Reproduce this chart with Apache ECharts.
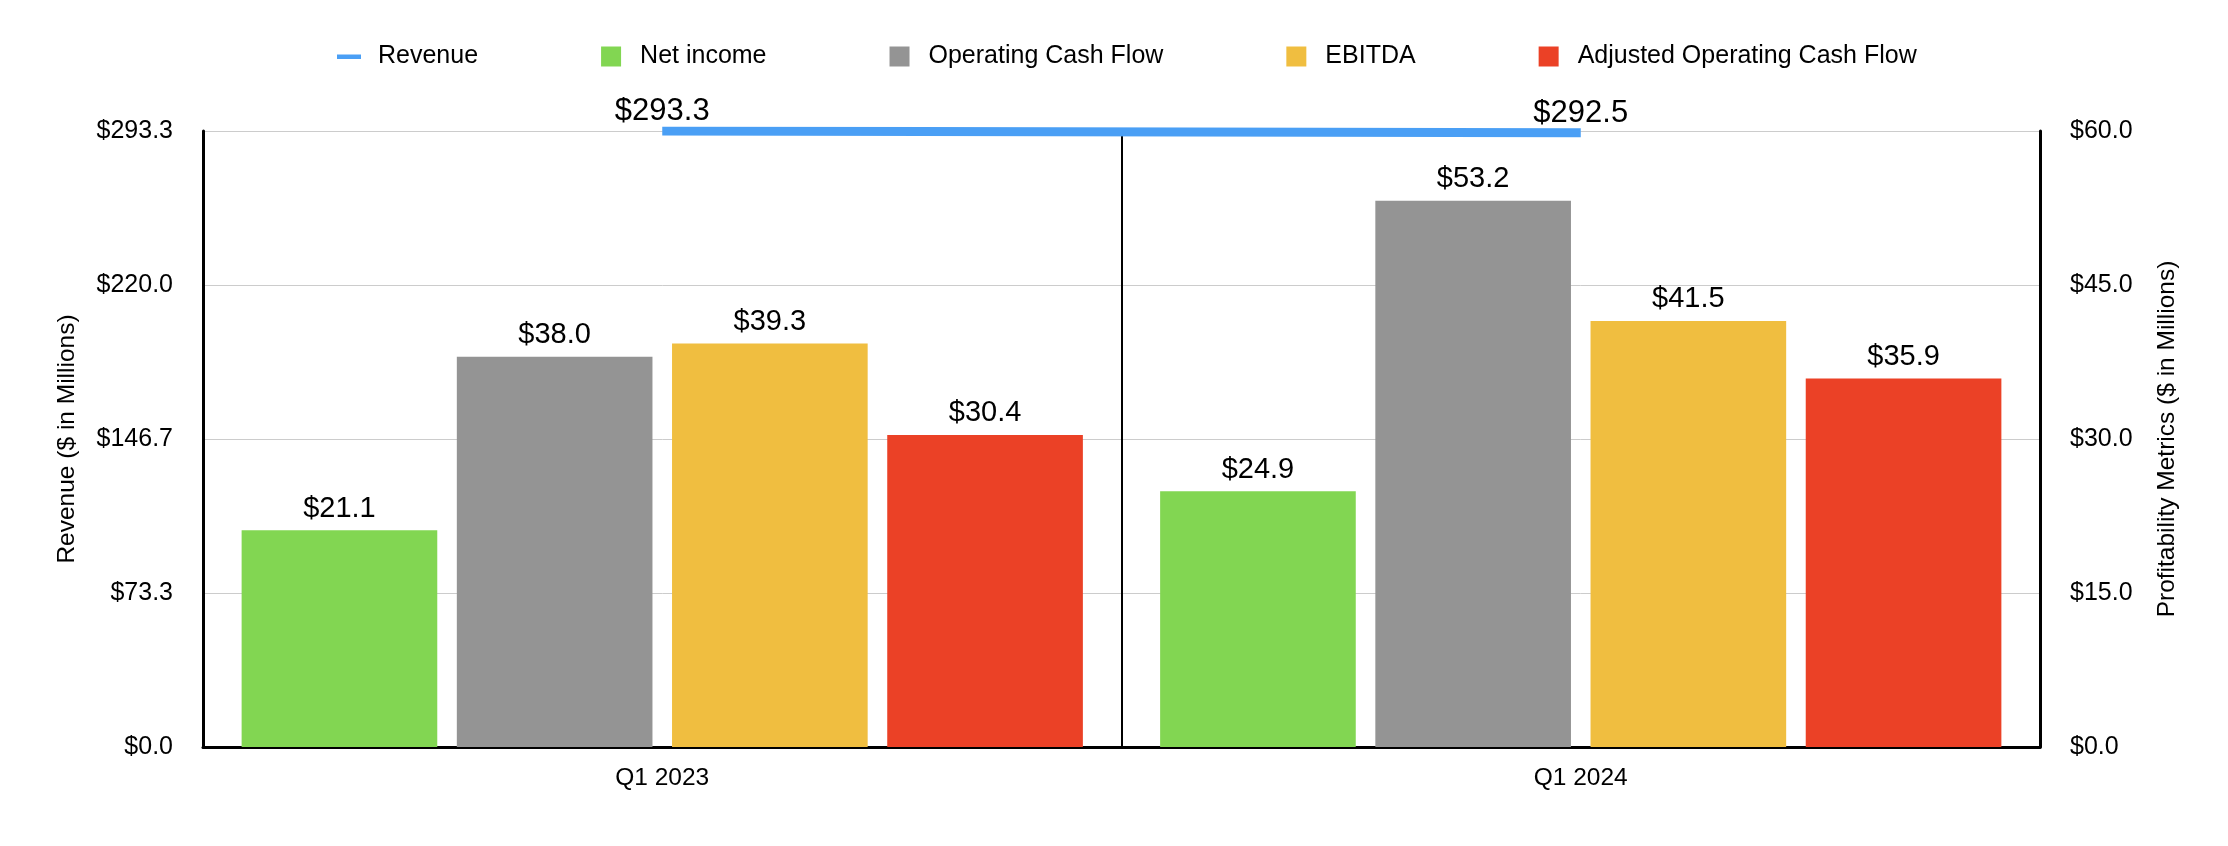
<!DOCTYPE html>
<html>
<head>
<meta charset="utf-8">
<script src="https://cdn.jsdelivr.net/npm/echarts@6/dist/echarts.min.js"></script>
<style>
html,body{margin:0;padding:0;background:#fff;}
#chart{width:2228px;height:846px;}
</style>
</head>
<body>
<div id="chart"></div>
<script>
const categories = ['Q1 2023', 'Q1 2024'];
const revenue = [293.3, 292.5];
const netIncome = [21.1, 24.9];
const operatingCashFlow = [38.0, 53.2];
const ebitda = [39.3, 41.5];
const adjustedOperatingCashFlow = [30.4, 35.9];
const leftTicks = { min: 0, max: 293.33333, interval: 73.333333 };
const rightTicks = { min: 0, max: 60, interval: 15 };

const FONT = "'Liberation Sans', Arial, Helvetica, sans-serif";
const colors = {
  revenue: '#4A9FF5',
  net: '#82D652',
  ocf: '#949494',
  ebitda: '#F0BE40',
  adj: '#EB4126'
};
const squareIcon = 'path://M0,0L0,0M24,20L24,20M2,0L22,0L22,20L2,20Z';
const lineIcon = 'path://M0,0L0,0M24,20L24,20M0,8L24,8L24,12.5L0,12.5Z';
const fmt = v => '$' + Number(v).toFixed(1);

function barSeries(name, data, color) {
  return {
    name: name,
    type: 'bar',
    yAxisIndex: 1,
    data: data,
    barWidth: '21.3%',
    barGap: '10%',
    itemStyle: { color: color },
    label: {
      show: true,
      position: 'top',
      distance: 7,
      color: '#000',
      fontFamily: FONT,
      fontSize: 29,
      formatter: p => fmt(p.value)
    },
    z: 2
  };
}

const chart = echarts.init(document.getElementById('chart'), null, { renderer: 'canvas' });
chart.setOption({
  animation: false,
  backgroundColor: '#fff',
  textStyle: { fontFamily: FONT },
  legend: {
    top: 39,
    left: 332,
    itemWidth: 24,
    itemHeight: 20,
    itemGap: 121,
    symbolKeepAspect: true,
    textStyle: { fontFamily: FONT, fontSize: 25, color: '#000', padding: [0, 0, 0, 12] },
    data: [
      { name: 'Revenue', icon: lineIcon, itemStyle: { borderWidth: 0 } },
      { name: 'Net income', icon: squareIcon },
      { name: 'Operating Cash Flow', icon: squareIcon },
      { name: 'EBITDA', icon: squareIcon },
      { name: 'Adjusted Operating Cash Flow', icon: squareIcon }
    ]
  },
  grid: { left: 203, right: 188, top: 131, bottom: 99, containLabel: false },
  xAxis: {
    type: 'category',
    data: categories,
    boundaryGap: true,
    axisLine: { show: true, lineStyle: { color: '#000', width: 3 } },
    axisTick: { show: false },
    axisLabel: { color: '#000', fontFamily: FONT, fontSize: 24.5, margin: 19 },
    splitLine: { show: true, lineStyle: { color: '#000', width: 2 } }
  },
  yAxis: [
    {
      type: 'value',
      position: 'left',
      min: leftTicks.min,
      max: leftTicks.max,
      interval: leftTicks.interval,
      name: 'Revenue ($ in Millions)',
      nameLocation: 'middle',
      nameRotate: 90,
      nameGap: 123,
      nameTextStyle: { color: '#000', fontFamily: FONT, fontSize: 24.5 },
      axisLine: { show: true, lineStyle: { color: '#000', width: 3 } },
      axisTick: { show: false },
      axisLabel: { color: '#000', fontFamily: FONT, fontSize: 25, margin: 30, formatter: v => fmt(v) },
      splitLine: { show: true, lineStyle: { color: '#cccccc', width: 1 } }
    },
    {
      type: 'value',
      position: 'right',
      min: rightTicks.min,
      max: rightTicks.max,
      interval: rightTicks.interval,
      name: 'Profitability Metrics ($ in Millions)',
      nameLocation: 'middle',
      nameRotate: 90,
      nameGap: 115,
      nameTextStyle: { color: '#000', fontFamily: FONT, fontSize: 24.5 },
      axisLine: { show: true, lineStyle: { color: '#000', width: 3 } },
      axisTick: { show: false },
      axisLabel: { color: '#000', fontFamily: FONT, fontSize: 25, margin: 30, formatter: v => fmt(v) },
      splitLine: { show: false }
    }
  ],
  series: [
    {
      name: 'Revenue',
      type: 'line',
      yAxisIndex: 0,
      data: revenue,
      symbol: 'circle',
      symbolSize: 0.1,
      showSymbol: true,
      itemStyle: { color: colors.revenue },
      lineStyle: { color: colors.revenue, width: 9, cap: 'butt' },
      label: {
        show: true,
        position: 'top',
        distance: 4,
        color: '#000',
        fontFamily: FONT,
        fontSize: 31,
        formatter: p => fmt(p.value)
      },
      z: 5
    },
    barSeries('Net income', netIncome, colors.net),
    barSeries('Operating Cash Flow', operatingCashFlow, colors.ocf),
    barSeries('EBITDA', ebitda, colors.ebitda),
    barSeries('Adjusted Operating Cash Flow', adjustedOperatingCashFlow, colors.adj)
  ]
});
</script>
</body>
</html>
